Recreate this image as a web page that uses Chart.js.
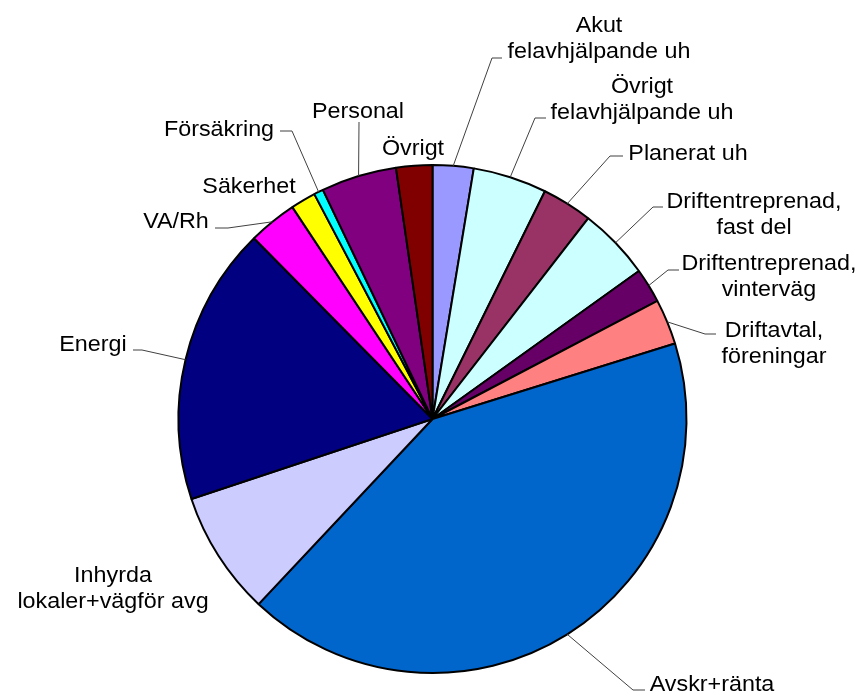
<!DOCTYPE html>
<html>
<head>
<meta charset="utf-8">
<script src="https://cdn.jsdelivr.net/npm/chart.js@4.4.0/dist/chart.umd.min.js"></script>
<style>
  body { margin: 0; background: #fff; }
  #wrap { width: 863px; height: 696px; }
</style>
</head>
<body>
<div id="wrap"><canvas id="pie"></canvas></div>
<script>
// slices clockwise from 12 o'clock
const categories = [
    ['Akut', 'felavhjälpande uh'],
    ['Övrigt', 'felavhjälpande uh'],
    ['Planerat uh'],
    ['Driftentreprenad,', 'fast del'],
    ['Driftentreprenad,', 'vinterväg'],
    ['Driftavtal,', 'föreningar'],
    ['Avskr+ränta'],
    ['Inhyrda', 'lokaler+vägför avg'],
    ['Energi'],
    ['VA/Rh'],
    ['Säkerhet'],
    ['Försäkring'],
    ['Personal'],
    ['Övrigt']
];
const shares = [2.6, 4.7, 3.2, 4.6, 2.2, 2.9, 41.8, 7.9, 17.7, 3.1, 1.6, 0.6, 4.8, 2.3];
const sliceColors = ['#9999FF', '#CCFFFF', '#993366', '#CCFFFF', '#660066', '#FF8080', '#0066CC',
                     '#CCCCFF', '#000080', '#FF00FF', '#FFFF00', '#00FFFF', '#800080', '#800000'];

// where each label sits: text centre x, first baseline y, leader bend and end (none = no leader)
const labelSpots = [
    {x: 599, y: 32,  bend: [492, 58],  end: [502, 58]},
    {x: 642, y: 93,  bend: [535, 118], end: [546, 118]},
    {x: 688, y: 160, bend: [610, 156], end: [623, 156]},
    {x: 754, y: 208, bend: [653, 207], end: [663, 207]},
    {x: 769, y: 270, bend: [668, 270], end: [679, 270]},
    {x: 774, y: 337, bend: [705, 334], end: [716, 334]},
    {x: 712, y: 691, bend: [633, 690], end: [645, 690]},
    {x: 113, y: 582},
    {x: 93,  y: 351, bend: [142, 350], end: [133, 350]},
    {x: 176, y: 228, bend: [228, 228], end: [215, 228]},
    {x: 249, y: 193},
    {x: 219, y: 136, bend: [292, 131], end: [280, 131]},
    {x: 358, y: 118, bend: [359, 122], end: [359, 122]},
    {x: 413, y: 155}
];

const FONT = '22px "Liberation Sans", Arial, sans-serif';
const STRETCH = 1.06;   // text in the original is a touch wider than plain Arial
const LINE_H = 26;

const pieLabels = {
    id: 'pieLabels',
    afterDraw(chart) {
        const ctx = chart.ctx;
        const arcs = chart.getDatasetMeta(0).data;
        ctx.save();
        ctx.strokeStyle = '#404040';
        ctx.lineWidth = 1;
        arcs.forEach((arc, i) => {
            const spot = labelSpots[i];
            if (spot.bend) {
                const mid = (arc.startAngle + arc.endAngle) / 2;
                ctx.beginPath();
                ctx.moveTo(arc.x + Math.cos(mid) * arc.outerRadius, arc.y + Math.sin(mid) * arc.outerRadius);
                ctx.lineTo(spot.bend[0], spot.bend[1]);
                ctx.lineTo(spot.end[0], spot.end[1]);
                ctx.stroke();
            }
            ctx.font = FONT;
            ctx.fillStyle = '#000';
            ctx.textAlign = 'center';
            ctx.textBaseline = 'alphabetic';
            categories[i].forEach((line, k) => {
                ctx.save();
                ctx.translate(spot.x, spot.y + k * LINE_H);
                ctx.scale(STRETCH, 1);
                ctx.fillText(line, 0, 0);
                ctx.restore();
            });
        });
        ctx.restore();
    }
};

new Chart(document.getElementById('pie'), {
    type: 'pie',
    data: {
        labels: categories,
        datasets: [{
            data: shares,
            backgroundColor: sliceColors,
            borderColor: '#000',
            borderWidth: 2,
            hoverOffset: 0,
            radius: 254
        }]
    },
    options: {
        responsive: true,
        maintainAspectRatio: false,
        animation: false,
        layout: {padding: {left: 178, right: 176, top: 164, bottom: 22}},
        plugins: {
            legend: {display: false},
            tooltip: {enabled: false}
        }
    },
    plugins: [pieLabels]
});
</script>
</body>
</html>
